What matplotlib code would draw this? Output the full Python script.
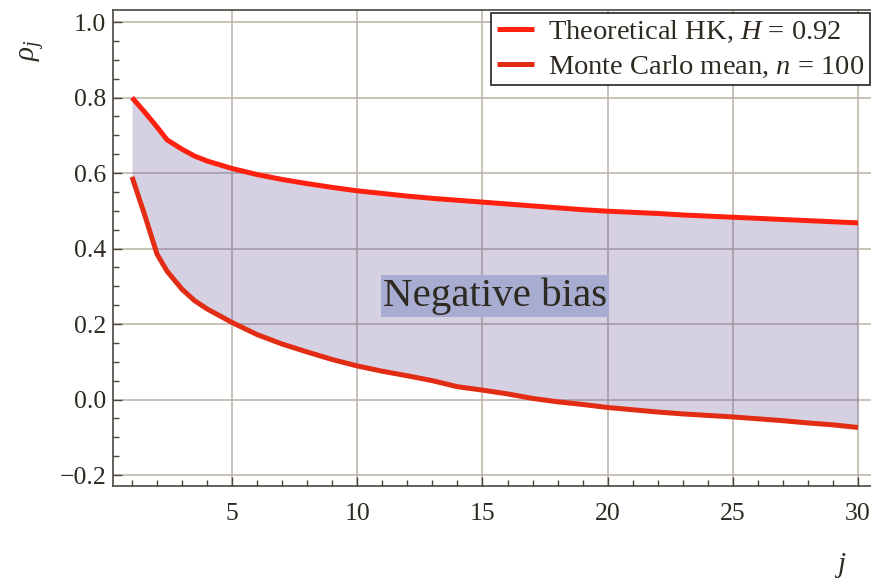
import matplotlib
matplotlib.use("Agg")
import matplotlib.pyplot as plt
import numpy as np
from matplotlib.ticker import MultipleLocator

plt.rcParams['font.family'] = ['Liberation Serif', 'DejaVu Serif']
plt.rcParams['mathtext.fontset'] = 'custom'
plt.rcParams['mathtext.rm'] = 'Liberation Serif'
plt.rcParams['mathtext.it'] = 'Liberation Serif:italic'

# lag j (denser near the start, where the curves bend) and autocorrelations
lags = [1, 1.5, 2, 2.4, 3, 3.5, 4, 5, 6, 7, 8, 9, 10, 11, 12, 13, 14, 15, 16, 17,
        18, 19, 20, 21, 22, 23, 24, 25, 26, 27, 28, 29, 30]
rho_theory = [0.800, 0.762, 0.722, 0.688, 0.663, 0.645, 0.632, 0.612, 0.596, 0.583,
              0.572, 0.562, 0.553, 0.546, 0.539, 0.533, 0.528, 0.523, 0.518, 0.513,
              0.508, 0.503, 0.499, 0.496, 0.493, 0.489, 0.486, 0.483, 0.480, 0.477,
              0.474, 0.471, 0.468]
rho_mc = [0.590, 0.490, 0.385, 0.340, 0.292, 0.262, 0.240, 0.204, 0.172, 0.147,
          0.126, 0.106, 0.089, 0.075, 0.063, 0.050, 0.034, 0.025, 0.015, 0.003,
          -0.006, -0.013, -0.021, -0.027, -0.033, -0.038, -0.042, -0.046, -0.051,
          -0.056, -0.062, -0.067, -0.074]

H = 0.92
n = 100

ink = '#2e2a22'
fig = plt.figure(figsize=(8.71, 5.81), dpi=100)
ax = fig.add_axes([113 / 871, 95 / 581, 760 / 871, 476 / 581])

ax.fill_between(lags, rho_mc, rho_theory, color=(0.35, 0.28, 0.55), alpha=0.25,
                linewidth=0, zorder=1)
ax.plot(lags, rho_theory, color='#ff2010', lw=3.6, solid_capstyle='butt', zorder=3,
        label=r'Theoretical HK, $H$ = %.2f' % H)
ax.plot(lags, rho_mc, color='#e22d14', lw=3.6, solid_capstyle='butt', zorder=3,
        label=r'Monte Carlo mean, $n$ = %d' % n)

ax.text(15.5, 0.274, 'Negative bias', fontsize=29.5, color=ink, ha='center', va='center',
        zorder=4, bbox=dict(boxstyle='square,pad=0.05', fc='#a8acd0', ec='none'))

ax.set_xlim(0.24, 30.6)
ax.set_ylim(-0.229, 1.032)
ax.xaxis.set_major_locator(MultipleLocator(5))
ax.xaxis.set_minor_locator(MultipleLocator(1))
ax.yaxis.set_major_locator(MultipleLocator(0.2))
ax.yaxis.set_minor_locator(MultipleLocator(0.05))
ax.set_yticks(np.arange(-0.2, 1.01, 0.2))
ax.set_yticklabels(['\u22120.2', '0.0', '0.2', '0.4', '0.6', '0.8', '1.0'])
ax.set_xticks([5, 10, 15, 20, 25, 30])

ax.set_axisbelow(True)
ax.grid(True, which='major', color='#b9b2a5', lw=1.1)
ax.tick_params(which='both', direction='in', colors='#4a463e', labelcolor=ink,
               labelsize=18.5, width=1.0)
ax.tick_params(which='major', length=6.5)
ax.tick_params(which='minor', length=4)
ax.tick_params(axis='x', pad=12)
ax.tick_params(axis='y', pad=5)
for side in ['left', 'bottom', 'top']:
    ax.spines[side].set_color('#4a463e')
    ax.spines[side].set_linewidth(1.2)
ax.spines['right'].set_visible(False)

fig.text(32 / 871, 1 - 50 / 581, r'$\rho_j$', fontsize=21, color=ink, rotation=90,
         ha='center', va='center')
fig.text(840 / 871, 1 - 565 / 581, r'$j$', fontsize=21, color=ink, ha='center', va='center')

leg = ax.legend(loc='upper right', bbox_to_anchor=(870 / 871, 1 - 13 / 581),
                bbox_transform=fig.transFigure, borderaxespad=0, fontsize=20.5,
                frameon=True, fancybox=False, edgecolor='#222222', framealpha=1,
                handlelength=1.3, handletextpad=0.5, borderpad=0.2, labelspacing=0.3)
leg.get_frame().set_linewidth(1.2)
for t in leg.get_texts():
    t.set_color(ink)

fig.savefig('out.png', dpi=100)
